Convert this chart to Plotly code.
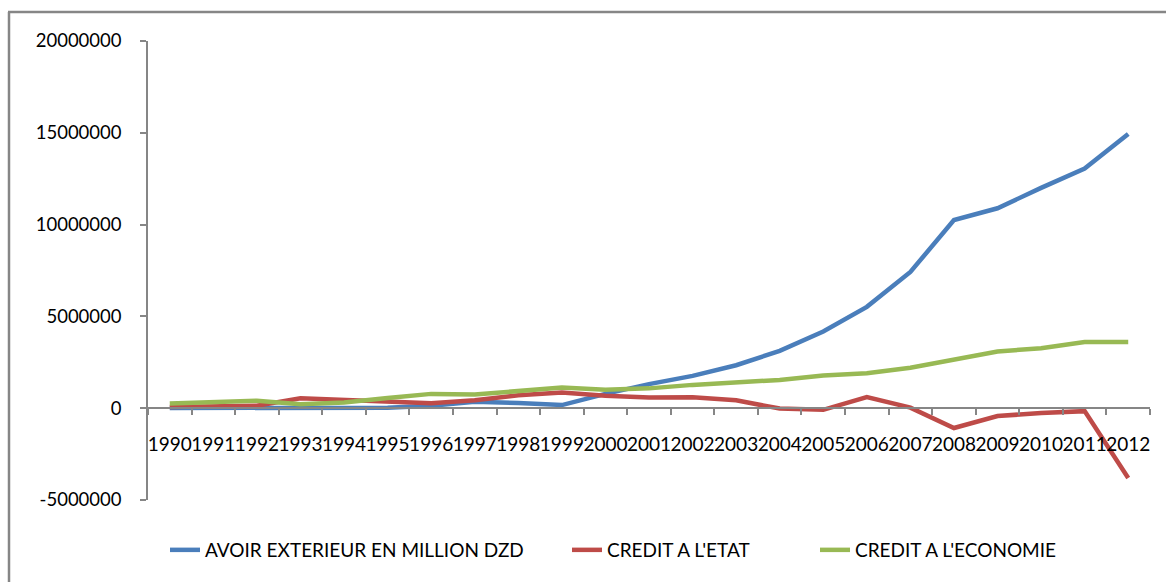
import plotly.graph_objects as go

years = [str(y) for y in range(1990, 2013)]

avoir_exterieur = [10000, 20000, 25000, 20000, 60000, 30000, 130000, 350000, 280000, 170000,
                   780000, 1310000, 1760000, 2340000, 3120000, 4180000, 5520000, 7420000,
                   10250000, 10890000, 12000000, 13050000, 14940000]
credit_etat = [70000, 90000, 130000, 540000, 470000, 400000, 270000, 430000, 700000, 850000,
               680000, 580000, 590000, 430000, -20000, -90000, 600000, 30000,
               -1080000, -430000, -260000, -160000, -3800000]
credit_economie = [250000, 330000, 410000, 220000, 310000, 560000, 780000, 740000, 910000, 1130000,
                   1000000, 1080000, 1270000, 1380000, 1540000, 1780000, 1900000, 2200000,
                   2620000, 3090000, 3270000, 3600000, 3600000]

series_names = ["AVOIR EXTERIEUR EN MILLION DZD", "CREDIT A L'ETAT", "CREDIT A L'ECONOMIE"]
series_colors = ["#4A7EBB", "#BE4B48", "#98B954"]

y_tickvals = [-5000000, 0, 5000000, 10000000, 15000000, 20000000]
y_ticktext = ["-5000000", "0", "5000000", "10000000", "15000000", "20000000"]

FONT = "Lato, 'Open Sans', sans-serif"
GRAY = "#868686"

# plot area in pixels
W, H = 1166, 582
L, R, T, B = 148, 16, 41, 82
pw, ph = W - L - R, H - T - B

def px_x(px):
    return (px - L) / pw

def px_y(py):
    return (H - B - py) / ph

fig = go.Figure()
legend_ids = ["legend", "legend2", "legend3"]
for vals, name, col, lg in zip([avoir_exterieur, credit_etat, credit_economie],
                               series_names, series_colors, legend_ids):
    fig.add_trace(go.Scatter(x=years, y=vals, mode="lines", name=name,
                             line=dict(color=col, width=4.5, shape="linear"),
                             legend=lg, hoverinfo="x+y+name"))

legend_common = dict(orientation="h", yanchor="middle", xanchor="left",
                     font=dict(family=FONT, size=19, color="#000000"),
                     bgcolor="rgba(0,0,0,0)", borderwidth=0)

fig.update_layout(
    width=W, height=H,
    margin=dict(l=L, r=R, t=T, b=B, pad=0),
    paper_bgcolor="white", plot_bgcolor="white",
    font=dict(family=FONT, color="#000000"),
    legend=dict(x=px_x(165), y=px_y(550), **legend_common),
    legend2=dict(x=px_x(567), y=px_y(550), **legend_common),
    legend3=dict(x=px_x(815), y=px_y(550), **legend_common),
    xaxis=dict(type="category", range=[-0.5, len(years) - 0.5],
               anchor="free", position=5 / 25,
               showline=True, linecolor=GRAY, linewidth=1.5,
               ticks="outside", ticklen=6, tickcolor=GRAY, tickwidth=1.5,
               tickson="boundaries", showgrid=False, zeroline=False,
               tickfont=dict(family=FONT, size=19, color="#000000"),
               ticklabelstandoff=19, tickangle=0),
    yaxis=dict(range=[-5000000, 20000000], tickvals=y_tickvals, ticktext=y_ticktext,
               showline=True, linecolor=GRAY, linewidth=1.5,
               ticks="outside", ticklen=6, tickcolor=GRAY, tickwidth=1.5,
               showgrid=False, zeroline=False,
               tickfont=dict(family=FONT, size=18.5, color="#000000"),
               ticklabelstandoff=15),
    showlegend=True,
)

# chart-area border (left and top edges visible in the reference)
fig.add_shape(type="line", xref="paper", yref="paper",
              x0=px_x(9), x1=px_x(9), y0=px_y(12), y1=px_y(600),
              line=dict(color=GRAY, width=2.5))
fig.add_shape(type="line", xref="paper", yref="paper",
              x0=px_x(8), x1=px_x(1200), y0=px_y(12), y1=px_y(12),
              line=dict(color=GRAY, width=2.5))

fig.write_html("out.html")
